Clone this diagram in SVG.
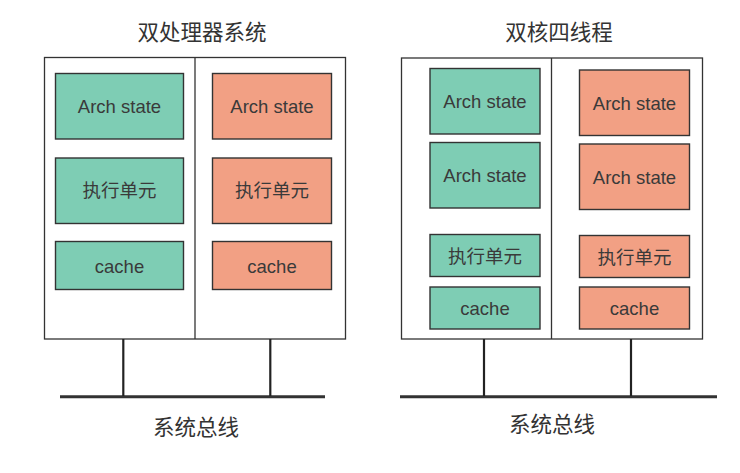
<svg xmlns="http://www.w3.org/2000/svg" width="740" height="473" viewBox="0 0 740 473">
<style>
  .frame{fill:#fff;stroke:#333;stroke-width:1.3}
  .div{stroke:#333;stroke-width:1.3}
  .g{fill:#7ECDB4;stroke:#333;stroke-width:1.4}
  .o{fill:#F2A084;stroke:#333;stroke-width:1.4}
  .t{font-family:"Liberation Sans","Noto Sans CJK SC",sans-serif;font-size:18.5px;fill:#3a3a3a;text-anchor:middle;dominant-baseline:central}
  .h{font-family:"Liberation Sans","Noto Sans CJK SC",sans-serif;font-size:21.5px;fill:#333;text-anchor:middle}
  .bus{stroke:#333;stroke-width:3;fill:none}
  .drop{stroke:#222;stroke-width:2.2;fill:none}
</style>
<rect width="740" height="473" fill="#fff"/>

<g id="titles">
  <text class="h" x="202" y="40">双处理器系统</text>
  <text class="h" x="559" y="40">双核四线程</text>
  <text class="h" x="196" y="435">系统总线</text>
  <text class="h" x="552" y="432">系统总线</text>
</g>

<g id="dual-processor">
  <rect class="frame" x="44.5" y="57.5" width="301" height="281.5"/>
  <line class="div" x1="195" y1="57.5" x2="195" y2="339"/>
</g>
<g id="p1-arch"><rect class="g" x="55.5" y="73.5" width="128" height="65.5"/><text class="t" x="119.5" y="106.5">Arch state</text></g>
<g id="p1-exec"><rect class="g" x="55.5" y="158" width="128" height="65.5"/><text class="t" x="119.5" y="190.5">执行单元</text></g>
<g id="p1-cache"><rect class="g" x="55.5" y="241.5" width="128" height="48"/><text class="t" x="119.5" y="266">cache</text></g>
<g id="p2-arch"><rect class="o" x="212.5" y="73.5" width="119" height="65.5"/><text class="t" x="272" y="106.5">Arch state</text></g>
<g id="p2-exec"><rect class="o" x="212.5" y="158" width="119" height="65.5"/><text class="t" x="272" y="190.5">执行单元</text></g>
<g id="p2-cache"><rect class="o" x="212.5" y="241.5" width="119" height="48"/><text class="t" x="272" y="266">cache</text></g>

<g id="dual-core">
  <rect class="frame" x="401.5" y="58" width="301" height="281"/>
  <line class="div" x1="551.5" y1="58" x2="551.5" y2="339"/>
</g>
<g id="c1-arch1"><rect class="g" x="430" y="68.5" width="110" height="65.5"/><text class="t" x="485" y="101.5">Arch state</text></g>
<g id="c1-arch2"><rect class="g" x="430" y="142.5" width="110" height="65.5"/><text class="t" x="485" y="175.5">Arch state</text></g>
<g id="c1-exec"><rect class="g" x="430" y="234.5" width="110" height="42"/><text class="t" x="485" y="256">执行单元</text></g>
<g id="c1-cache"><rect class="g" x="430" y="287" width="110" height="42"/><text class="t" x="485" y="308.5">cache</text></g>
<g id="c2-arch1"><rect class="o" x="579.5" y="70" width="110" height="65.5"/><text class="t" x="634.5" y="103">Arch state</text></g>
<g id="c2-arch2"><rect class="o" x="579.5" y="144" width="110" height="65.5"/><text class="t" x="634.5" y="177">Arch state</text></g>
<g id="c2-exec"><rect class="o" x="579.5" y="235.5" width="110" height="42"/><text class="t" x="634.5" y="257">执行单元</text></g>
<g id="c2-cache"><rect class="o" x="579.5" y="287" width="110" height="42"/><text class="t" x="634.5" y="308.5">cache</text></g>

<g id="connectors">
  <line class="bus" x1="60" y1="396.7" x2="325" y2="396.7"/>
  <line class="drop" x1="123.3" y1="339" x2="123.3" y2="396"/>
  <line class="drop" x1="270.3" y1="339" x2="270.3" y2="396"/>
  <line class="bus" x1="400" y1="396.7" x2="717" y2="396.7"/>
  <line class="drop" x1="484" y1="339" x2="484" y2="396"/>
  <line class="drop" x1="631" y1="339" x2="631" y2="396"/>
</g>
</svg>
